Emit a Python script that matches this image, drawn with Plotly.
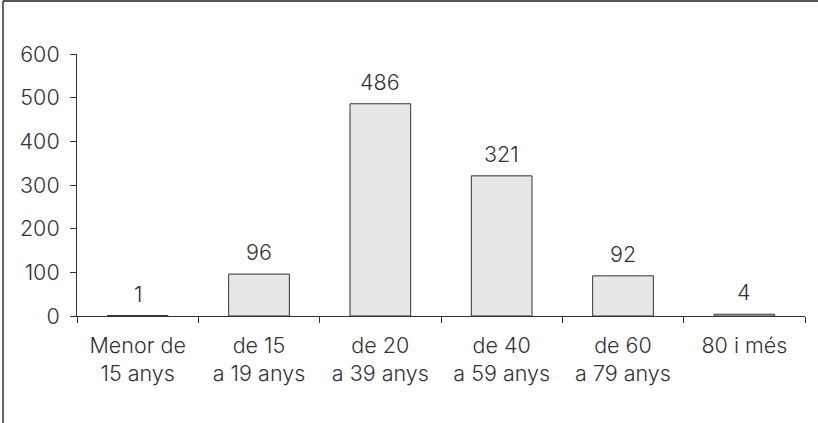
import plotly.graph_objects as go

categories = ["Menor de<br>15 anys", "de 15<br>a 19 anys", "de 20<br>a 39 anys",
              "de 40<br>a 59 anys", "de 60<br>a 79 anys", "80 i més"]
values = [1, 96, 486, 321, 92, 4]
y_ticks = [0, 100, 200, 300, 400, 500, 600]

W, H = 818, 423
ml, mr, mt, mb = 77, 13, 54, 107
pw, ph = W - ml - mr, H - mt - mb

def px_x(x):
    return (x - ml) / pw

def px_y(y):
    return (H - mb - y) / ph

font = dict(family="Inter, Liberation Sans, Arial, sans-serif", size=21.5,
            color="#333333", weight=300)

fig = go.Figure(go.Bar(
    x=categories, y=values,
    marker=dict(color="#e6e7e8", line=dict(color="#333333", width=1)),
))

for c, v in zip(categories, values):
    fig.add_annotation(x=c, y=v, text=str(v), showarrow=False, yanchor="bottom",
                       yshift=7, font=font)

fig.update_layout(
    width=W, height=H, margin=dict(l=ml, r=mr, t=mt, b=mb),
    paper_bgcolor="white", plot_bgcolor="white",
    font=font, bargap=0.5, showlegend=False,
    xaxis=dict(showline=True, linecolor="#333333", linewidth=1,
               ticks="outside", tickson="boundaries", ticklen=6, tickcolor="#333333",
               showgrid=False, tickfont=font, ticklabelstandoff=10),
    yaxis=dict(range=[0, 600], tickvals=y_ticks, showline=True, linecolor="#333333",
               linewidth=1, ticks="outside", ticklen=6, tickcolor="#333333",
               showgrid=False, zeroline=False, tickfont=font, ticklabelstandoff=6),
    shapes=[
        dict(type="line", xref="paper", yref="paper",
             x0=px_x(3), x1=px_x(818), y0=px_y(1), y1=px_y(1),
             line=dict(color="#555555", width=2)),
        dict(type="line", xref="paper", yref="paper",
             x0=px_x(3), x1=px_x(3), y0=px_y(1), y1=px_y(423),
             line=dict(color="#333333", width=1.5)),
    ],
)

fig.write_html("out.html", config={"displayModeBar": False},
               post_script="document.body.style.margin='0';document.body.style.overflow='hidden';")
